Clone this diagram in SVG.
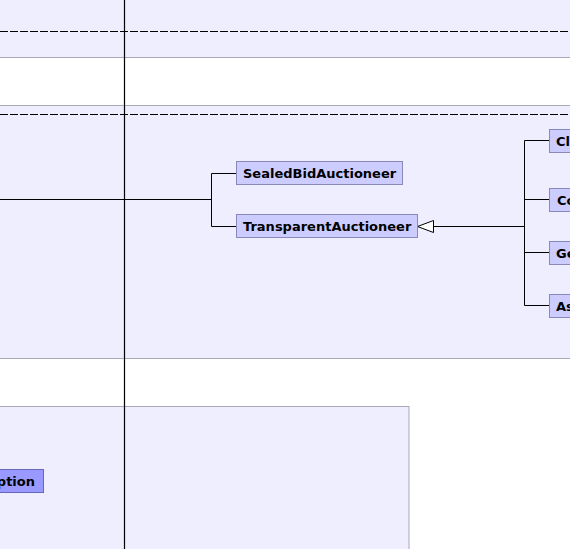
<svg xmlns="http://www.w3.org/2000/svg" width="570" height="549" viewBox="0 0 570 549">
<style>
.band{fill:#EEEEFF;stroke:#A8A8B8;stroke-width:1}
.dash{stroke:#000;stroke-width:1;stroke-dasharray:8,2;fill:none}
.node rect{fill:#CCCCFF;stroke:#8888BB;stroke-width:1}
.node text{font-family:"DejaVu Sans",sans-serif;font-weight:bold;font-size:13px;fill:#000}
.dark rect{fill:#9999FF;stroke:#6666BB}
.conn{stroke:#000;stroke-width:1;fill:none}
</style>
<defs>
<marker id="tri" markerWidth="18" markerHeight="14" refX="17" refY="7" orient="auto" markerUnits="userSpaceOnUse">
<path d="M1,1 L17,7 L1,13 Z" fill="#fff" stroke="#000" stroke-width="1"/>
</marker>
</defs>
<rect width="570" height="549" fill="#fff"/>
<g id="lanes">
<rect class="band" x="-2" y="-2" width="574" height="59.5"/>
<line class="dash" x1="0" y1="31.5" x2="570" y2="31.5"/>
<rect class="band" x="-2" y="105.5" width="574" height="253"/>
<line class="dash" x1="0" y1="114.5" x2="570" y2="114.5"/>
<rect class="band" x="-2" y="406.5" width="411" height="150"/>
<line x1="124.5" y1="0" x2="124.5" y2="549" stroke="#000" stroke-width="1.2"/>
</g>
<g id="connectors">
<path class="conn" d="M0,199.5 H211.5 M211.5,173.5 V226.5 M211.5,173.5 H236 M211.5,226.5 H236"/>
<path class="conn" d="M524.5,226.5 H417.5" marker-end="url(#tri)"/>
<path class="conn" d="M524.5,140.5 V305.5 M524.5,140.5 H549 M524.5,199.5 H549 M524.5,252.5 H549 M524.5,305.5 H549"/>
</g>
<g id="SealedBidAuctioneer" class="node"><rect x="236.5" y="161.5" width="166" height="23"/><text x="243" y="178">SealedBidAuctioneer</text></g>
<g id="TransparentAuctioneer" class="node"><rect x="236.5" y="214.5" width="181" height="23"/><text x="243" y="231">TransparentAuctioneer</text></g>
<g id="Cl" class="node"><rect x="549.5" y="129.5" width="40" height="23"/><text x="556" y="146">Cl</text></g>
<g id="Co" class="node"><rect x="549.5" y="188.5" width="40" height="23"/><text x="557" y="205">Co</text></g>
<g id="Ge" class="node"><rect x="549.5" y="241.5" width="40" height="23"/><text x="556" y="258">Ge</text></g>
<g id="As" class="node"><rect x="549.5" y="294.5" width="40" height="23"/><text x="556" y="311">As</text></g>
<g id="ption" class="node dark"><rect x="-10" y="469.5" width="53.5" height="23"/><text x="35" y="486" text-anchor="end">ption</text></g>
</svg>
